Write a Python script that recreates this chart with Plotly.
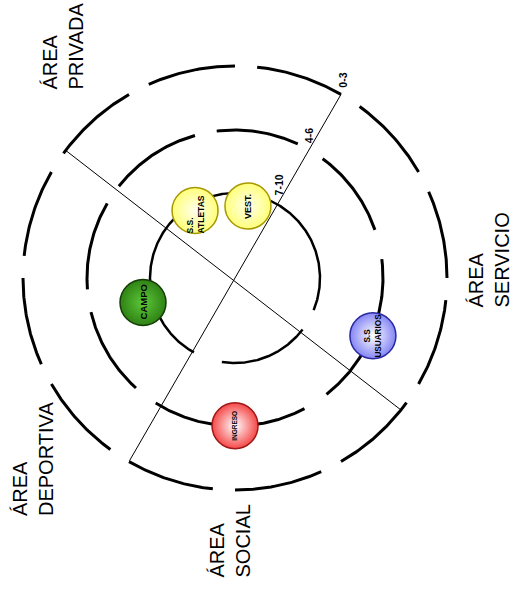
import numpy as np
import plotly.graph_objects as go

# --- data ---
area_names = ["PRIVADA", "SERVICIO", "DEPORTIVA", "SOCIAL"]
ring_labels = ["0-3", "4-6", "7-10"]
ring_radius = [212, 148, 85]

bubble_names = ["S.S.<br>ATLETAS", "VEST.", "CAMPO", "S.S<br>USUARIOS", "INGRESO"]
bubble_dist = [78.5, 73.2, 95.2, 149.5, 147.8]
bubble_angle = [120.6, 79.8, 194.9, -22.7, -90.0]
bubble_fill = ["#ffff7a", "#ffff7a", "#2f8214", "#8585f5", "#f54848"]
bubble_glow = ["#ffffee", "#ffffee", "#5cc83a", "#ffffff", "#ffffff"]
bubble_edge = ["#a89800", "#a89800", "#143c08", "#2a2aa0", "#a01818"]
bubble_font = [8.5, 9, 9.5, 8.2, 6.5]

# --- layout constants (pixel space) ---
W, H = 511, 590
CX, CY = 235, 278
FONT = "Liberation Sans, Arial, sans-serif"

area_x = [62, 488, 33, 229]
area_bottom = [92, 310, 518, 580]

ring_dashes = [
    [(30 * k, 30 * k + 24) for k in range(12)],
    [(149.7, 184.4), (105.7, 141.7), (64.9, 97.1), (19, 53.7),
     (-51.8, 7.3), (-122.4, -62), (-166.7, -132)],
    [(-22.2, 241.1), (-98.9, -37.3)],
]
ring_width = [3, 3, 2.5]
label_dist = [225, 160, 103]
label_angle = [61.3, 62.7, 64.9]


def polar(r, a):
    t = np.radians(a)
    return CX + r * np.cos(t), CY - r * np.sin(t)


def arcs(r, spans):
    xs, ys = [], []
    for a0, a1 in spans:
        t = np.linspace(a0, a1, int(abs(a1 - a0) * 2) + 2)
        x, y = polar(r, t)
        xs += list(x) + [None]
        ys += list(y) + [None]
    return xs, ys


fig = go.Figure()

for r, spans, w in zip(ring_radius, ring_dashes, ring_width):
    x, y = arcs(r, spans)
    fig.add_trace(go.Scatter(x=x, y=y, mode="lines",
                             line=dict(color="black", width=w),
                             hoverinfo="skip", showlegend=False))

# the two dividing lines
for a0, a1 in [(143, -38.5), (60, 240)]:
    x0, y0 = polar(212, a0)
    x1, y1 = polar(211, a1)
    fig.add_trace(go.Scatter(x=[x0, x1], y=[y0, y1], mode="lines",
                             line=dict(color="black", width=1),
                             hoverinfo="skip", showlegend=False))

bx, by = polar(np.array(bubble_dist), np.array(bubble_angle))
fig.add_trace(go.Scatter(
    x=bx, y=by, mode="markers",
    marker=dict(size=46, color=bubble_fill,
                gradient=dict(type="radial", color=bubble_glow),
                line=dict(color=bubble_edge, width=1.5)),
    hovertext=[n.replace("<br>", " ") for n in bubble_names],
    hoverinfo="text", showlegend=False))

for i, name in enumerate(bubble_names):
    fig.add_annotation(x=bx[i], y=by[i], text="<b>" + name + "</b>",
                       textangle=-90, showarrow=False,
                       align="left" if i == 0 else "center",
                       yshift=-4 if i == 0 else 0,
                       font=dict(family=FONT, size=bubble_font[i], color="black"))

for lab, r, a in zip(ring_labels, label_dist, label_angle):
    lx, ly = polar(r, a)
    fig.add_annotation(x=lx, y=ly, text="<b>" + lab + "</b>", textangle=-90,
                       showarrow=False,
                       font=dict(family=FONT, size=10.5, color="black"))

for name, x, yb in zip(area_names, area_x, area_bottom):
    fig.add_annotation(x=x, y=yb, text="ÁREA<br>" + name, textangle=-90,
                       showarrow=False, align="left",
                       xanchor="center", yanchor="bottom",
                       font=dict(family=FONT, size=20, color="black"))

fig.update_layout(
    width=W, height=H,
    margin=dict(l=0, r=0, t=0, b=0),
    paper_bgcolor="white", plot_bgcolor="white",
    xaxis=dict(range=[0, W], visible=False, fixedrange=True),
    yaxis=dict(range=[H, 0], visible=False, fixedrange=True),
)

fig.write_html("out.html", config={"displayModeBar": False},
               post_script="document.body.style.margin='0px';")
